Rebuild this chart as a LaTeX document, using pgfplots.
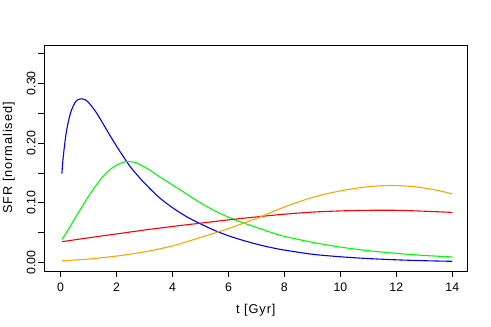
\documentclass[border=0pt]{standalone}
\usepackage{fontspec}
\setmainfont{Liberation Sans}
\usepackage{pgfplots}
\pgfplotsset{compat=1.18}
\definecolor{rblue}{RGB}{0,0,255}
\definecolor{rgreen}{RGB}{0,255,0}
\definecolor{rred}{RGB}{255,0,0}
\definecolor{rorange}{RGB}{255,165,0}
\begin{document}
\begin{tikzpicture}
\useasboundingbox (-44bp,-56bp) rectangle (447bp,271bp);
\begin{axis}[
  scale only axis,
  width=423.7bp, height=226bp,
  xmin=-0.59, xmax=14.55,
  ymin=-0.014, ymax=0.364,
  axis line style={black, line width=0.8bp},
  xtick={0,2,...,14},
  ytick={0,0.05,0.10,0.15,0.20,0.25,0.30,0.35},
  yticklabels={0.00,,0.10,,0.20,,0.30,},
  xtick pos=left, ytick pos=left,
  tick align=outside,
  major tick length=6bp,
  tick style={black, line width=0.8bp},
  /pgf/number format/assume math mode=true,
  ticklabel style={font=\fontsize{12.3bp}{14bp}\selectfont, inner sep=0pt},
  xticklabel style={anchor=base},
  xticklabel shift=14bp,
  yticklabel style={rotate=90, anchor=base},
  yticklabel shift=2.5bp,
  label style={font=\fontsize{12.8bp}{14bp}\selectfont\addfontfeatures{LetterSpace=7}, inner sep=0pt},
  xlabel={t [Gyr]},
  ylabel={SFR [normalised]},
  xlabel style={at={(axis description cs:0.5,0)}, anchor=base, yshift=-42.3bp},
  ylabel style={at={(axis description cs:-0.075,0.5)}, anchor=base},
  every axis plot/.append style={line width=1.1bp},
]
% blue
\addplot[rblue, smooth] coordinates {
(0.05,0.149) (0.10,0.178) (0.20,0.216) (0.30,0.240) (0.40,0.256) (0.50,0.266)
(0.60,0.272) (0.75,0.274) (0.90,0.272) (1.00,0.268) (1.25,0.253) (1.50,0.234)
(1.75,0.214) (2.00,0.195) (2.25,0.177) (2.50,0.160) (2.75,0.146) (3.00,0.133)
(3.50,0.110) (4.00,0.092) (4.50,0.077) (5.00,0.065) (5.50,0.054) (6.00,0.045)
(6.50,0.0375) (7.00,0.031) (7.50,0.0255) (8.00,0.021) (9.00,0.014) (10.00,0.0098)
(11.00,0.0068) (12.00,0.0047) (13.00,0.0032) (14.00,0.0022)
};
% green
\addplot[rgreen, smooth] coordinates {
(0.05,0.039) (0.25,0.053) (0.50,0.073) (0.75,0.092) (1.00,0.111) (1.25,0.128)
(1.50,0.143) (1.75,0.155) (2.00,0.163) (2.25,0.168) (2.45,0.169) (2.70,0.167)
(3.00,0.160) (3.25,0.153) (3.50,0.145) (4.00,0.130) (4.50,0.115) (5.00,0.100)
(5.50,0.087) (6.00,0.076) (6.50,0.067) (7.00,0.059) (7.50,0.051) (8.00,0.044)
(9.00,0.034) (10.00,0.026) (11.00,0.020) (12.00,0.0155) (13.00,0.012) (14.00,0.0095)
};
% red
\addplot[rred, smooth] coordinates {
(0.05,0.035) (1,0.0415) (2,0.048) (3,0.0545) (4,0.0605) (5,0.066) (6,0.0715)
(7,0.0765) (8,0.081) (9,0.0845) (10,0.0865) (11,0.0875) (12,0.0875) (13,0.086) (14,0.084)
};
% orange
\addplot[rorange, smooth] coordinates {
(0.05,0.003) (1,0.006) (2,0.011) (3,0.018) (4,0.028) (5,0.042) (6,0.057)
(7,0.074) (8,0.093) (9,0.109) (10,0.120) (11,0.127) (11.8,0.129) (12.5,0.1276)
(13,0.1248) (13.5,0.1206) (14,0.115)
};
\end{axis}
\end{tikzpicture}
\end{document}
